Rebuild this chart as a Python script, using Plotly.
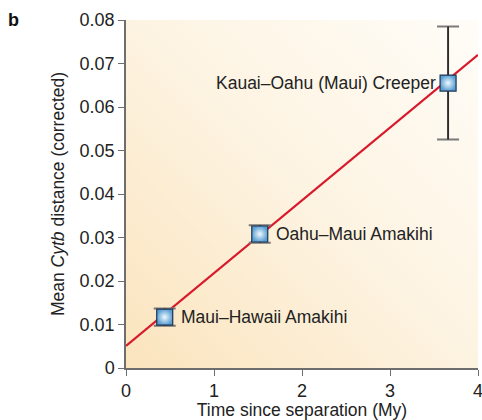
import base64
import plotly.graph_objects as go

# pairwise comparisons
pairs = ["Maui–Hawaii Amakihi", "Oahu–Maui Amakihi", "Kauai–Oahu (Maui) Creeper"]
time_my = [0.44, 1.52, 3.66]
cytb_dist = [0.0117, 0.0308, 0.0655]
cytb_err = [0.0020, 0.0020, 0.0130]

# fitted line
fit_x = [0, 4]
fit_y = [0.0051, 0.0720]

x_ticks = [0, 1, 2, 3, 4]
y_ticks = [0, 0.01, 0.02, 0.03, 0.04, 0.05, 0.06, 0.07, 0.08]
y_ticktext = ["0", "0.01", "0.02", "0.03", "0.04", "0.05", "0.06", "0.07", "0.08"]

FONT = "Liberation Sans, Arial, sans-serif"

# soft orange background gradient, bottom-left to top-right
svg = """<svg xmlns='http://www.w3.org/2000/svg' width='100' height='100' preserveAspectRatio='none'>
<defs><linearGradient id='g' x1='0' y1='1' x2='1' y2='0'>
<stop offset='0' stop-color='#fbe4bd'/>
<stop offset='0.5' stop-color='#fdf3e1'/>
<stop offset='1' stop-color='#fffdf8'/>
</linearGradient></defs>
<rect width='100' height='100' fill='url(#g)'/></svg>"""
bg_src = "data:image/svg+xml;base64," + base64.b64encode(svg.encode()).decode()

fig = go.Figure()

fig.add_trace(
    go.Scatter(
        x=fit_x,
        y=fit_y,
        mode="lines",
        line=dict(color="#d7192b", width=2.2),
        hoverinfo="skip",
    )
)

# grey caps
fig.add_trace(
    go.Scatter(
        x=time_my,
        y=cytb_dist,
        mode="markers",
        marker=dict(size=1, opacity=0),
        error_y=dict(type="data", array=cytb_err, color="#7a7a7a", thickness=2, width=11),
        hoverinfo="skip",
    )
)

fig.add_trace(
    go.Scatter(
        x=time_my,
        y=cytb_dist,
        mode="markers",
        text=pairs,
        marker=dict(
            symbol="square",
            size=16,
            color="#5a9fd4",
            gradient=dict(type="radial", color="#f2f9fe"),
            line=dict(color="#1e3550", width=1.2),
        ),
        error_y=dict(
            type="data",
            array=cytb_err,
            color="#111111",
            thickness=1.3,
            width=0,
        ),
    )
)

# point labels
label_pos = [
    dict(xanchor="left", xshift=14),
    dict(xanchor="left", xshift=14),
    dict(xanchor="right", xshift=-10),
]
for name, xv, yv, pos in zip(pairs, time_my, cytb_dist, label_pos):
    fig.add_annotation(
        x=xv,
        y=yv,
        text=name,
        showarrow=False,
        yanchor="middle",
        font=dict(family=FONT, size=17.5, color="#222222"),
        **pos,
    )

fig.add_annotation(
    x=-0.32,
    y=1.0,
    xref="paper",
    yref="paper",
    xanchor="center",
    yanchor="middle",
    text="<b>b</b>",
    showarrow=False,
    font=dict(family=FONT, size=18, color="#111111"),
)

fig.add_layout_image(
    dict(
        source=bg_src,
        xref="paper",
        yref="paper",
        x=0,
        y=1,
        sizex=1,
        sizey=1,
        sizing="stretch",
        xanchor="left",
        yanchor="top",
        layer="below",
    )
)

axis_style = dict(
    showgrid=False,
    zeroline=False,
    showline=True,
    linecolor="#6e6e6e",
    linewidth=1.5,
    ticks="outside",
    ticklen=6,
    tickwidth=1.3,
    tickcolor="#6e6e6e",
    tickfont=dict(family=FONT, size=18, color="#222222"),
    ticklabeloverflow="allow",
    automargin=False,
)

fig.update_xaxes(
    range=[0, 4],
    tickvals=x_ticks,
    title=dict(
        text="Time since separation (My)",
        font=dict(family=FONT, size=17.5, color="#222222"),
        standoff=6,
    ),
    **axis_style,
)
fig.update_yaxes(
    range=[0, 0.08],
    tickvals=y_ticks,
    ticktext=y_ticktext,
    title=dict(
        text="Mean <i>Cytb</i> distance (corrected)",
        font=dict(family=FONT, size=17.5, color="#222222"),
        standoff=10,
    ),
    **axis_style,
)

fig.update_layout(
    width=482,
    height=420,
    autosize=False,
    showlegend=False,
    plot_bgcolor="rgba(0,0,0,0)",
    paper_bgcolor="#ffffff",
    margin=dict(l=126, r=4, t=20, b=52),
    hovermode="closest",
)

fig.write_html(
    "out.html",
    config={"displayModeBar": False},
    post_script="document.body.style.margin='0';",
)
